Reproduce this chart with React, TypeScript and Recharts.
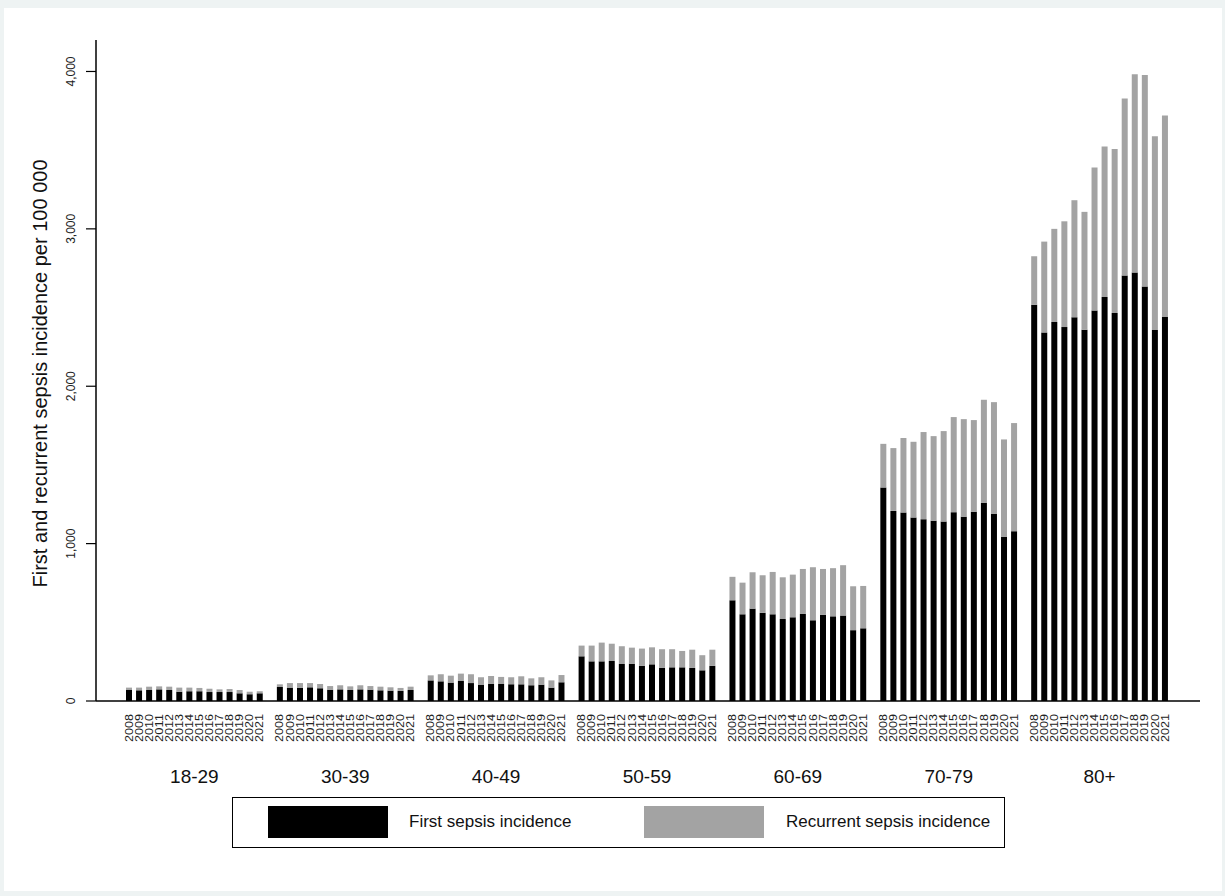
import React from 'react';
import { BarChart, Bar, XAxis, YAxis, Legend } from 'recharts';

const years = ['2008', '2009', '2010', '2011', '2012', '2013', '2014', '2015', '2016', '2017', '2018', '2019', '2020', '2021'];
const ageGroups = ['18-29', '30-39', '40-49', '50-59', '60-69', '70-79', '80+'];

// first sepsis incidence per 100 000, by age group (2008..2021)
const first18_29 = [70, 68, 70, 74, 70, 59, 62, 62, 57, 57, 57, 49, 43, 49];
const first30_39 = [89, 85, 83, 87, 81, 72, 74, 70, 74, 72, 68, 66, 64, 70];
const first40_49 = [131, 125, 117, 127, 114, 104, 110, 108, 106, 106, 100, 104, 85, 119];
const first50_59 = [284, 252, 252, 254, 235, 237, 224, 233, 210, 214, 214, 210, 195, 223];
const first60_69 = [640, 551, 587, 560, 551, 521, 532, 553, 513, 547, 538, 543, 450, 462];
const first70_79 = [1357, 1208, 1198, 1166, 1155, 1145, 1140, 1200, 1170, 1202, 1259, 1189, 1043, 1079];
const first80 = [2518, 2342, 2408, 2376, 2438, 2359, 2482, 2567, 2465, 2703, 2722, 2633, 2357, 2440];

// recurrent sepsis incidence per 100 000 (stacked on top)
const recurrent18_29 = [15, 17, 21, 19, 21, 26, 23, 21, 21, 17, 19, 21, 16, 13];
const recurrent30_39 = [17, 29, 31, 27, 27, 23, 26, 23, 26, 23, 23, 21, 19, 21];
const recurrent40_49 = [32, 45, 44, 47, 56, 47, 49, 45, 45, 51, 44, 47, 46, 46];
const recurrent50_59 = [68, 100, 119, 110, 113, 102, 109, 108, 119, 115, 104, 116, 96, 103];
const recurrent60_69 = [149, 201, 231, 239, 269, 265, 271, 286, 337, 292, 306, 320, 279, 269];
const recurrent70_79 = [277, 399, 473, 481, 554, 538, 575, 604, 621, 583, 655, 710, 619, 687];
const recurrent80 = [308, 577, 592, 672, 744, 749, 908, 956, 1043, 1125, 1261, 1344, 1232, 1280];

const firstByGroup = [first18_29, first30_39, first40_49, first50_59, first60_69, first70_79, first80];
const recurrentByGroup = [recurrent18_29, recurrent30_39, recurrent40_49, recurrent50_59, recurrent60_69, recurrent70_79, recurrent80];

const yTicks = [0, 1000, 2000, 3000, 4000];

const FONT = '"Liberation Sans", Arial, sans-serif';
const GREY = '#a3a3a3';

type Row = {
  key: string;
  year: string;
  group: string;
  yearIndex: number;
  first: number | null;
  recurrent: number | null;
};

const data: Row[] = [];
ageGroups.forEach((group, gi) => {
  if (gi > 0) {
    data.push({ key: 'gap' + gi, year: '', group: '', yearIndex: -1, first: null, recurrent: null });
  }
  years.forEach((year, yi) => {
    data.push({
      key: group + '_' + year,
      year,
      group,
      yearIndex: yi,
      first: firstByGroup[gi][yi],
      recurrent: recurrentByGroup[gi][yi],
    });
  });
});

function YearTick(props: any) {
  const { x, y, payload } = props;
  const row = data.find(d => d.key === payload.value);
  if (!row || row.yearIndex < 0) return null;
  const top = y + 5;
  const half = payload.offset != null ? payload.offset : 5;
  return (
    <g>
      <text
        x={x}
        y={top}
        transform={`rotate(-90, ${x}, ${top})`}
        textAnchor="end"
        dy="0.36em"
        fontSize={10}
        textLength={28}
        lengthAdjust="spacingAndGlyphs"
        fill="#222"
        fontFamily={FONT}
      >
        {row.year}
      </text>
      {row.yearIndex === 6 && (
        <text x={x + half} y={y + 74} textAnchor="middle" fontSize={19} fill="#111" fontFamily={FONT}>
          {row.group}
        </text>
      )}
    </g>
  );
}

function YTick(props: any) {
  const { x, y, payload } = props;
  const cx = x - 13;
  return (
    <text
      x={cx}
      y={y}
      transform={`rotate(-90, ${cx}, ${y})`}
      textAnchor="middle"
      dy="0.36em"
      fontSize={12}
      fill="#222"
      fontFamily={FONT}
    >
      {payload.value.toLocaleString('en-US')}
    </text>
  );
}

function YLabel(props: any) {
  const vb = props.viewBox || { y: 40, height: 661 };
  const cy = vb.y + vb.height / 2 + 3;
  const cx = 47;
  return (
    <text
      x={cx}
      y={cy}
      transform={`rotate(-90, ${cx}, ${cy})`}
      textAnchor="middle"
      fontSize={20}
      fill="#111"
      fontFamily={FONT}
    >
      First and recurrent sepsis incidence per 100 000
    </text>
  );
}

function LegendBox() {
  return (
    <div
      style={{
        width: 771,
        height: 49,
        border: '1px solid #000',
        position: 'relative',
        fontFamily: FONT,
        fontSize: 17,
        color: '#111',
        background: '#fff',
      }}
    >
      <div style={{ position: 'absolute', left: 35, top: 8, width: 120, height: 32, background: '#000' }} />
      <span style={{ position: 'absolute', left: 176, top: 14, whiteSpace: 'nowrap' }}>First sepsis incidence</span>
      <div style={{ position: 'absolute', left: 411, top: 8, width: 120, height: 32, background: GREY }} />
      <span style={{ position: 'absolute', left: 553, top: 14, whiteSpace: 'nowrap' }}>Recurrent sepsis incidence</span>
    </div>
  );
}

export default function App() {
  return (
    <div style={{ position: 'absolute', left: 0, top: 0, width: 1225, height: 896, background: '#eef3f3' }}>
      <div style={{ position: 'absolute', left: 4, top: 8, right: 3, bottom: 5, background: '#fff' }} />
      <div style={{ position: 'absolute', left: 0, top: 0 }}>
        <BarChart
          width={1225}
          height={896}
          data={data}
          margin={{ top: 40, right: 25, bottom: 100, left: 0 }}
          barSize={6}
        >
          <XAxis
            dataKey="key"
            interval={0}
            tickLine={false}
            axisLine={{ stroke: '#000', strokeWidth: 1.5 }}
            tick={<YearTick />}
            height={95}
            padding={{ left: 28, right: 30 }}
          />
          <YAxis
            width={96}
            domain={[0, 4200]}
            ticks={yTicks}
            tickSize={10}
            tickLine={{ stroke: '#000', strokeWidth: 1.2 }}
            axisLine={{ stroke: '#000', strokeWidth: 1.5 }}
            tick={<YTick />}
            label={{ content: <YLabel /> }}
          />
          <Legend
            layout="vertical"
            align="center"
            verticalAlign="middle"
            wrapperStyle={{ left: 232, top: 797, width: 773, height: 51 }}
            content={() => <LegendBox />}
          />
          <Bar dataKey="first" stackId="s" fill="#000" isAnimationActive={false} />
          <Bar dataKey="recurrent" stackId="s" fill={GREY} isAnimationActive={false} />
        </BarChart>
      </div>
    </div>
  );
}
